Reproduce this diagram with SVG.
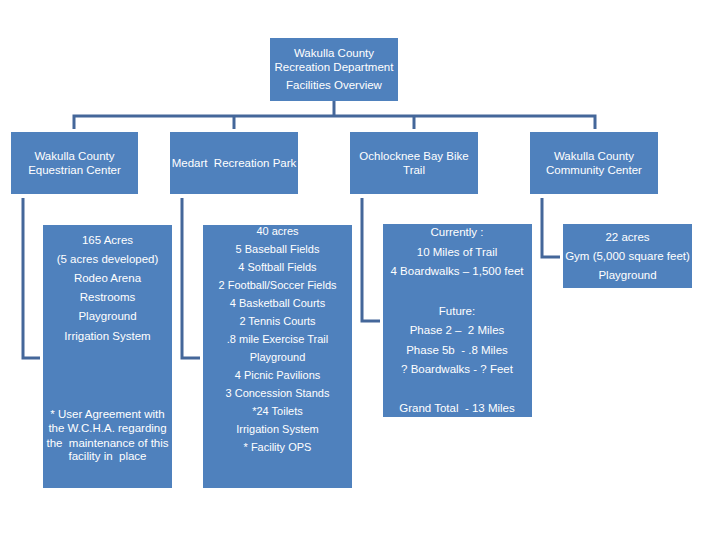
<svg xmlns="http://www.w3.org/2000/svg" width="720" height="540" viewBox="0 0 720 540">
<style>
.box{fill:#4F81BD;}
.ln{fill:none;stroke:#44679A;stroke-width:3;}
text{font-family:"Liberation Sans",Arial,sans-serif;fill:#FFFFFF;font-size:11.5px;text-anchor:middle;white-space:pre;}
.sm{font-size:11px;}
</style>
<rect width="720" height="540" fill="#FFFFFF"/>
<g id="connectors">
<path class="ln" d="M334 101V116"/>
<path class="ln" d="M74 129V116H595V129"/>
<path class="ln" d="M234 116V129"/>
<path class="ln" d="M414 116V129"/>
<path class="ln" d="M23 198V358H40"/>
<path class="ln" d="M182 198V358H200"/>
<path class="ln" d="M362 198V321H380"/>
<path class="ln" d="M542 198V257H560"/>
</g>
<g id="root">
<rect class="box" x="270" y="38" width="128" height="63"/>
<text x="334" y="57">Wakulla County</text>
<text x="334" y="71">Recreation Department</text>
<text x="334" y="89">Facilities Overview</text>
</g>
<g id="equestrian">
<rect class="box" x="11" y="132" width="127" height="62"/>
<text x="74.5" y="160">Wakulla County</text>
<text x="74.5" y="174">Equestrian Center</text>
</g>
<g id="medart">
<rect class="box" x="170" y="132" width="128" height="62"/>
<text x="234" y="167">Medart  Recreation Park</text>
</g>
<g id="ochlocknee">
<rect class="box" x="350" y="132" width="128" height="62"/>
<text x="414" y="160">Ochlocknee Bay Bike</text>
<text x="414" y="174">Trail</text>
</g>
<g id="community">
<rect class="box" x="530" y="132" width="128" height="62"/>
<text x="594" y="160">Wakulla County</text>
<text x="594" y="174">Community Center</text>
</g>
<g id="equestrian-details">
<rect class="box" x="43" y="225" width="129" height="263"/>
<text x="107.5" y="244">165 Acres</text>
<text x="107.5" y="263">(5 acres developed)</text>
<text x="107.5" y="282">Rodeo Arena</text>
<text x="107.5" y="301">Restrooms</text>
<text x="107.5" y="320">Playground</text>
<text x="107.5" y="340">Irrigation System</text>
<text x="107.5" y="418">* User Agreement with</text>
<text x="107.5" y="432">the W.C.H.A. regarding</text>
<text x="107.5" y="447">the  maintenance of this</text>
<text x="107.5" y="460">facility in  place</text>
</g>
<g id="medart-details">
<rect class="box" x="203" y="225" width="149" height="263"/>
<text class="sm" x="277.5" y="235">40 acres</text>
<text class="sm" x="277.5" y="253">5 Baseball Fields</text>
<text class="sm" x="277.5" y="271">4 Softball Fields</text>
<text class="sm" x="277.5" y="289">2 Football/Soccer Fields</text>
<text class="sm" x="277.5" y="307">4 Basketball Courts</text>
<text class="sm" x="277.5" y="325">2 Tennis Courts</text>
<text class="sm" x="277.5" y="343">.8 mile Exercise Trail</text>
<text class="sm" x="277.5" y="361">Playground</text>
<text class="sm" x="277.5" y="379">4 Picnic Pavilions</text>
<text class="sm" x="277.5" y="397">3 Concession Stands</text>
<text class="sm" x="277.5" y="415">*24 Toilets</text>
<text class="sm" x="277.5" y="433">Irrigation System</text>
<text class="sm" x="277.5" y="451">* Facility OPS</text>
</g>
<g id="ochlocknee-details">
<rect class="box" x="383" y="224" width="149" height="193"/>
<text x="457" y="236">Currently :</text>
<text x="457" y="256">10 Miles of Trail</text>
<text x="457" y="275">4 Boardwalks – 1,500 feet</text>
<text x="457" y="315">Future:</text>
<text x="457" y="334">Phase 2 –  2 Miles</text>
<text x="457" y="354">Phase 5b  - .8 Miles</text>
<text x="457" y="373">? Boardwalks - ? Feet</text>
<text x="457" y="412">Grand Total  - 13 Miles</text>
</g>
<g id="community-details">
<rect class="box" x="563" y="224" width="129" height="64"/>
<text x="627.5" y="241">22 acres</text>
<text x="627.5" y="260">Gym (5,000 square feet)</text>
<text x="627.5" y="279">Playground</text>
</g>
</svg>
